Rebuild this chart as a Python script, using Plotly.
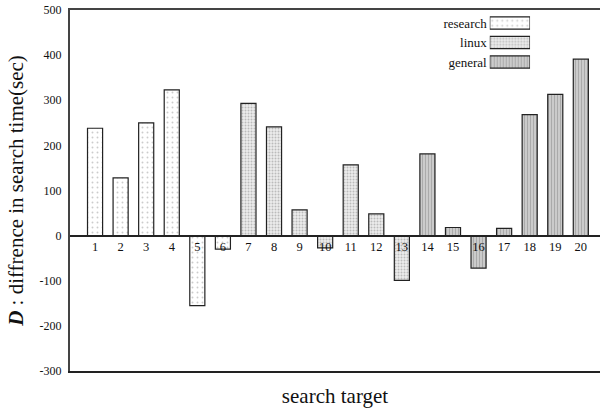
import plotly.graph_objects as go

research_x = [1, 2, 3, 4, 5, 6]
research_y = [238, 128, 250, 323, -155, -30]
linux_x = [7, 8, 9, 10, 11, 12, 13]
linux_y = [293, 241, 57, -27, 157, 48, -99]
general_x = [14, 15, 16, 17, 18, 19, 20]
general_y = [181, 18, -72, 16, 268, 313, 391]

target_labels = ["1", "2", "3", "4", "5", "6", "7", "8", "9", "10",
                 "11", "12", "13", "14", "15", "16", "17", "18", "19", "20"]
target_vals = [1, 2, 3, 4, 5, 6, 7, 8, 9, 10, 11, 12, 13, 14, 15, 16, 17, 18, 19, 20]
ytick_vals = [-300, -200, -100, 0, 100, 200, 300, 400, 500]
ytick_text = ["-300", "-200", "-100", "0", "100", "200", "300", "400", "500"]
legend_names = ["research", "linux", "general"]

FONT = "Liberation Serif"
LINE = "#222222"

styles = {
    "research": dict(shape=".", fgcolor="#9a9a9a", bgcolor="#ffffff", size=5, solidity=0.12, fillmode="overlay"),
    "linux": dict(shape=".", fgcolor="#8a8a8a", bgcolor="#ececec", size=3, solidity=0.35, fillmode="overlay"),
    "general": dict(shape="|", fgcolor="#8a8a8a", bgcolor="#cbcbcb", size=3, solidity=0.35, fillmode="overlay"),
}

fig = go.Figure()
for name, xs, ys in [("research", research_x, research_y),
                     ("linux", linux_x, linux_y),
                     ("general", general_x, general_y)]:
    fig.add_trace(go.Bar(
        x=xs, y=ys, name=name, width=0.59,
        marker=dict(color=styles[name]["bgcolor"], line=dict(color=LINE, width=1.2),
                    pattern=styles[name]),
        showlegend=False, xaxis="x", yaxis="y",
    ))

# legend swatches drawn as bars on their own small axes
for name in legend_names:
    fig.add_trace(go.Bar(
        x=[1], y=[name], orientation="h", width=0.62, base=0,
        marker=dict(color=styles[name]["bgcolor"], line=dict(color=LINE, width=1.2),
                    pattern=styles[name]),
        showlegend=False, xaxis="x4", yaxis="y4",
    ))

fig.update_layout(
    width=600, height=411,
    margin=dict(l=70, r=0, t=10, b=40, autoexpand=False),
    paper_bgcolor="white", plot_bgcolor="white",
    barmode="overlay",
    font=dict(family=FONT, color="#111111", size=12),
    xaxis=dict(range=[0.02, 20.75], tickmode="array", tickvals=target_vals, ticktext=target_labels,
               anchor="free", position=0.375, showline=True, linecolor=LINE, linewidth=1.5,
               showgrid=False, zeroline=False, ticks="", automargin=False,
               tickfont=dict(size=12.5, family=FONT)),
    xaxis2=dict(range=[0.02, 20.75], overlaying="x", side="top", anchor="y",
                showline=True, linecolor="#444444", linewidth=2, showticklabels=False,
                showgrid=False, zeroline=False, ticks="", automargin=False),
    xaxis3=dict(range=[0.02, 20.75], overlaying="x", side="bottom", anchor="y",
                showline=True, linecolor=LINE, linewidth=1.5, showticklabels=False,
                showgrid=False, zeroline=False, ticks="", automargin=False,
                title=dict(text="search target", font=dict(size=21, family=FONT), standoff=17)),
    yaxis=dict(range=[-300, 500], tickmode="array", tickvals=ytick_vals, ticktext=ytick_text,
               showline=True, linecolor="#444444", linewidth=2, showgrid=False, zeroline=False,
               ticks="", ticklabelstandoff=4, automargin=False, ticklabeloverflow="allow",
               tickfont=dict(size=12, family=FONT),
               title=dict(text="<b><i>D</i></b> : diffrence in search time(sec)",
                          font=dict(size=21, family=FONT), standoff=10)),
    xaxis4=dict(domain=[0.792, 0.868], range=[0, 1], anchor="y4", visible=False),
    yaxis4=dict(domain=[0.829, 0.991], anchor="x4", type="category",
                categoryorder="array", categoryarray=legend_names[::-1],
                showline=False, showgrid=False, zeroline=False, ticks="", automargin=False,
                ticklabelstandoff=2, tickfont=dict(size=13, family=FONT)),
)
# make xaxis2/xaxis3 render by attaching invisible traces
fig.add_trace(go.Scatter(x=[1], y=[0], xaxis="x2", yaxis="y", mode="markers",
                         marker=dict(opacity=0), showlegend=False, hoverinfo="skip"))
fig.add_trace(go.Scatter(x=[1], y=[0], xaxis="x3", yaxis="y", mode="markers",
                         marker=dict(opacity=0), showlegend=False, hoverinfo="skip"))

# remove the default 8px page margin so the 600x411 figure fills the window
fig.write_html("out.html", config={"displayModeBar": False},
               post_script="document.body.style.margin='0px';")
